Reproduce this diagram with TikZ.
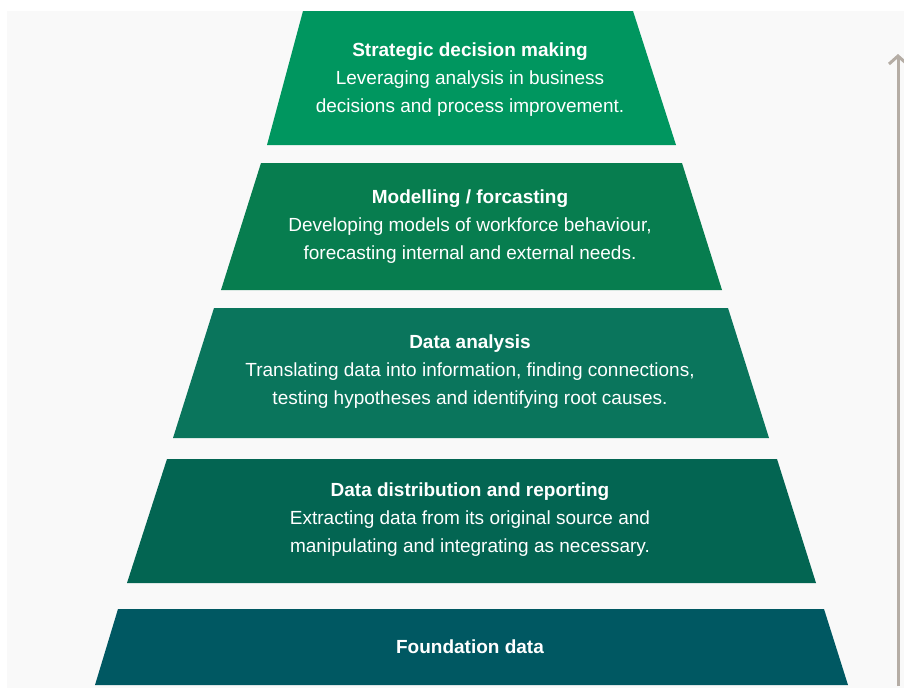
\documentclass[tikz,border=0pt]{standalone}
\usepackage{fontspec}
\setmainfont{Liberation Sans}
\usetikzlibrary{arrows.meta}
\definecolor{bgray}{HTML}{F9F9F9}
\definecolor{lvA}{HTML}{00965F}
\definecolor{lvB}{HTML}{077D4F}
\definecolor{lvC}{HTML}{0A755C}
\definecolor{lvD}{HTML}{036552}
\definecolor{lvE}{HTML}{005862}
\definecolor{arrowgray}{HTML}{B5ADA5}
\tikzset{
  lbl/.style={text=white, align=center, font=\fontsize{19}{28}\selectfont, inner sep=0pt},
}
\begin{document}
\begin{tikzpicture}[x=1pt,y=-1pt]
\useasboundingbox (0,0) rectangle (904,688);
\fill[white] (0,0) rectangle (904,688);
\fill[bgray] (7,11) rectangle (904,688);
% levels
\fill[lvA] (303,11) -- (633,11) -- (676,145) -- (267,145) -- cycle;
\fill[lvB] (261,163) -- (682,163) -- (722,290) -- (221,290) -- cycle;
\fill[lvC] (214,308) -- (728,308) -- (769,438) -- (173,438) -- cycle;
\fill[lvD] (167,459) -- (777,459) -- (816,583) -- (127,583) -- cycle;
\fill[lvE] (118,609) -- (824,609) -- (848,685) -- (95,685) -- cycle;
% texts
\node[lbl] (t1) at (470,80) {\textbf{Strategic decision making}\\Leveraging analysis in business\\decisions and process improvement.};
\node[lbl] (t2) at (470,227) {\textbf{Modelling / forcasting}\\Developing models of workforce behaviour,\\forecasting internal and external needs.};
\node[lbl] (t3) at (470,372) {\textbf{Data analysis}\\Translating data into information, finding connections,\\testing hypotheses and identifying root causes.};
\node[lbl] (t4) at (470,520) {\textbf{Data distribution and reporting}\\Extracting data from its original source and\\manipulating and integrating as necessary.};
\node[lbl] (t5) at (470,647) {\textbf{Foundation data}};
% arrow
\coordinate (abot) at (898,686);
\coordinate (atop) at (898,54);
\draw[arrowgray, line width=3pt, -{Straight Barb[length=8pt,width=18pt,line width=3pt]}] (abot) -- (atop);
\end{tikzpicture}
\end{document}
